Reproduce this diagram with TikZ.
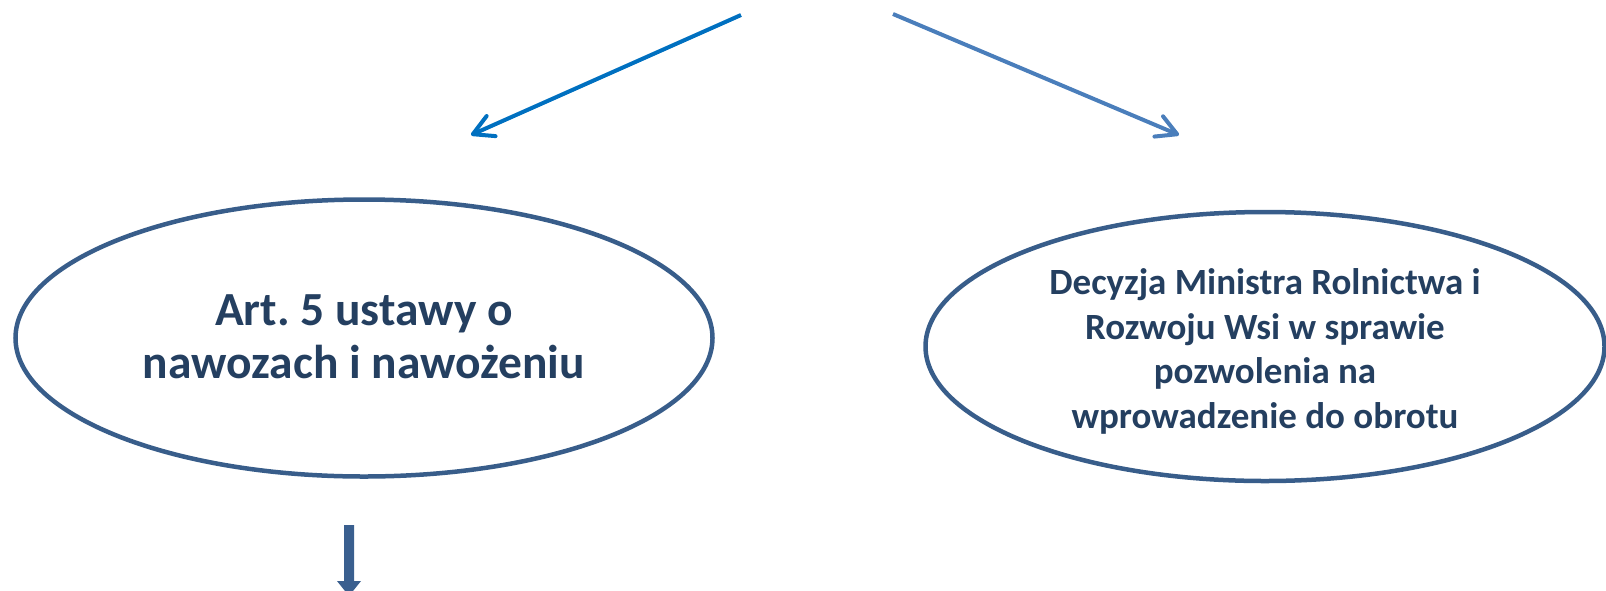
\documentclass[tikz,border=0pt]{standalone}
\usepackage{fontspec}
\setmainfont{Carlito}
\frenchspacing
\usetikzlibrary{arrows.meta,shapes.geometric}
\definecolor{arrowA}{HTML}{0070C0}
\definecolor{arrowB}{HTML}{4A7EBB}
\definecolor{ellcol}{HTML}{385D8A}
\definecolor{downcol}{HTML}{3A5F8F}
\definecolor{txtcol}{HTML}{243F60}
\begin{document}
\begin{tikzpicture}[x=1pt,y=-1pt,
  ell/.style={ellipse, draw=ellcol, line width=4.5pt, inner sep=0pt},
  txt/.style={inner sep=0pt, align=center, text=txtcol},
  topArrow/.style={line width=4pt, -{Straight Barb[length=20pt,width=22pt,round]}}]
\useasboundingbox (0,0) rectangle (1606,590);
\node[ell, minimum width=697pt, minimum height=277pt] (law) at (364,338) {};
\node[txt, font=\fontsize{47.5}{53}\selectfont\bfseries] (lawT) at (364,336.5) {Art.\ 5 ustawy o\\nawozach i nawożeniu};
\node[ell, minimum width=679pt, minimum height=269pt] (dec) at (1265,346.5) {};
\node[txt, font=\fontsize{37}{44.5}\selectfont\bfseries] (decT) at (1265,351.5) {Decyzja Ministra Rolnictwa i\\Rozwoju Wsi w sprawie\\pozwolenia na\\wprowadzenie do obrotu};
\coordinate (s1) at (741,15);
\coordinate (e1) at (471,135);
\coordinate (s2) at (893,14);
\coordinate (e2) at (1179,135);
\draw[topArrow, draw=arrowA] (s1) -- (e1);
\draw[topArrow, draw=arrowB] (s2) -- (e2);
\fill[downcol] (344,525) -- (354,525) -- (354,581) -- (361,581) -- (349,596) -- (337,581) -- (344,581) -- cycle;
\end{tikzpicture}
\end{document}
